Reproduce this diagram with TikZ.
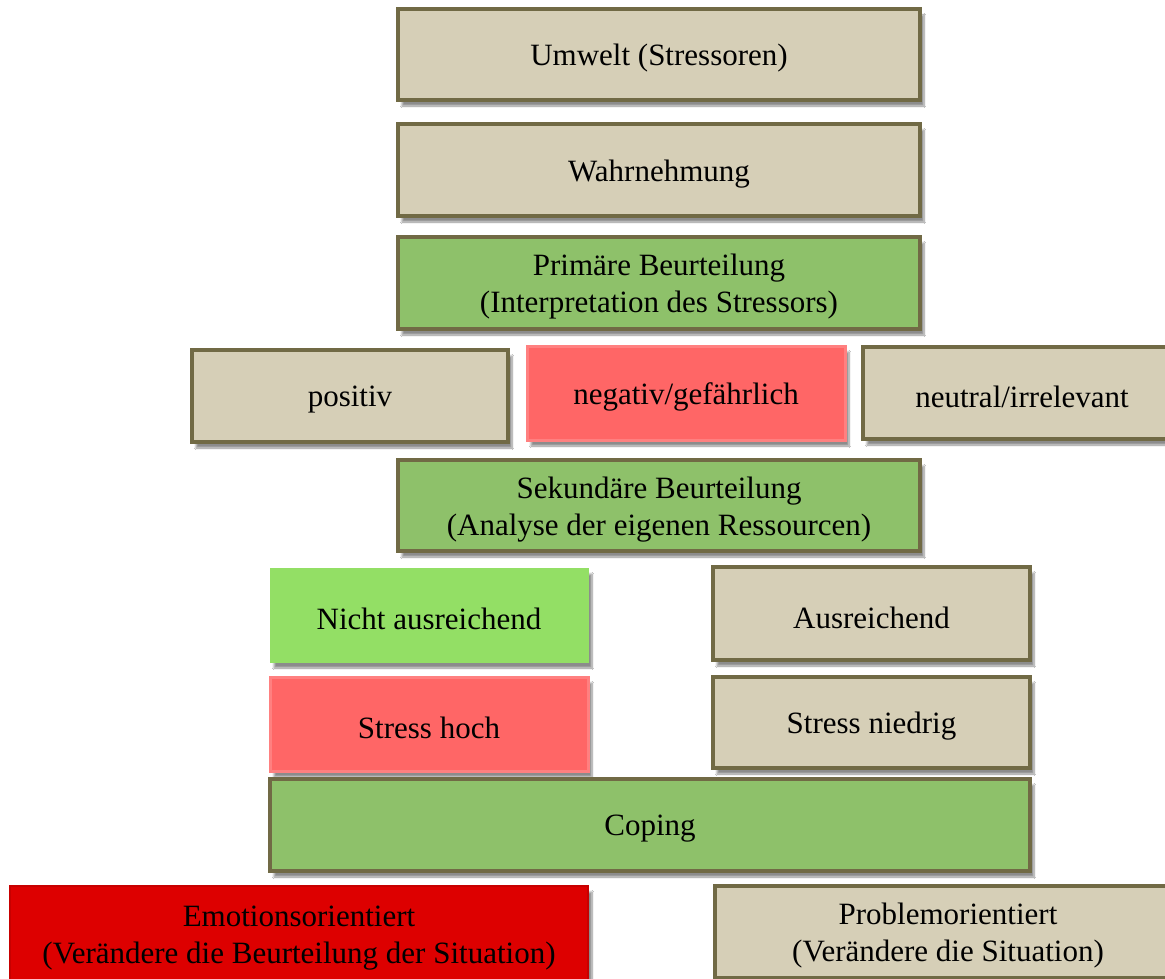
\documentclass[tikz,border=0pt]{standalone}
\usepackage{fontspec}
\setmainfont{Liberation Serif}
\usetikzlibrary{shadows,shadows.blur}
\definecolor{tanfill}{HTML}{D6CFB7}
\definecolor{olive}{HTML}{716A45}
\definecolor{midgreen}{HTML}{8EC16A}
\definecolor{lightgreen}{HTML}{93DF65}
\definecolor{softred}{HTML}{FF6666}
\definecolor{softredline}{HTML}{FF8080}
\definecolor{darkred}{HTML}{DD0000}
\tikzset{
  basebox/.style={rectangle, align=center, inner sep=0pt,
    font=\fontsize{31}{37}\selectfont, text=black,
    blur shadow={shadow xshift=4pt, shadow yshift=-6pt, shadow blur steps=8, shadow opacity=45}},
  tanbox/.style={basebox, fill=tanfill, draw=olive, line width=4pt},
  greenbox/.style={basebox, fill=midgreen, draw=olive, line width=4pt},
  lgreenbox/.style={basebox, fill=lightgreen, draw=lightgreen, line width=1pt},
  redbox/.style={basebox, fill=softred, draw=softredline, line width=3pt},
  dredbox/.style={basebox, fill=darkred, draw=darkred!90!black, line width=2pt},
  txt/.style={align=center, inner sep=0pt, font=\fontsize{31}{37}\selectfont, text=black},
}
\begin{document}
\begin{tikzpicture}[x=1pt,y=-1pt]
\useasboundingbox[fill=white] (0,0) rectangle (1165,979);
\node[tanbox, minimum width=522, minimum height=91] (umwelt) at (659,54.5) {};
\node[txt] (umweltT) at ([yshift=-4pt]umwelt.center) {Umwelt (Stressoren)};
\node[tanbox, minimum width=522, minimum height=92] (wahr) at (659,170) {};
\node[txt] (wahrT) at ([yshift=-4pt]wahr.center) {Wahrnehmung};
\node[greenbox, minimum width=522, minimum height=92] (prim) at (659,283) {};
\node[txt] (primT) at ([yshift=-4pt]prim.center) {Primäre Beurteilung\\(Interpretation des Stressors)};
\node[tanbox, minimum width=316, minimum height=92] (pos) at (350,396) {};
\node[txt] (posT) at ([yshift=-4pt]pos.center) {positiv};
\node[redbox, minimum width=318, minimum height=94] (neg) at (686,393) {};
\node[txt] (negT) at ([yshift=-4pt]neg.center) {negativ/gefährlich};
\node[tanbox, minimum width=318, minimum height=92] (neu) at (1022,393) {};
\node[txt] (neuT) at ([yshift=-4pt]neu.center) {neutral/irrelevant};
\node[greenbox, minimum width=522, minimum height=91] (sek) at (659,505.5) {};
\node[txt] (sekT) at ([yshift=-4pt]sek.center) {Sekundäre Beurteilung\\(Analyse der eigenen Ressourcen)};
\node[lgreenbox, minimum width=318, minimum height=94] (nicht) at (429,615) {};
\node[txt] (nichtT) at ([yshift=-4pt]nicht.center) {Nicht ausreichend};
\node[tanbox, minimum width=317, minimum height=93] (aus) at (871.5,613.5) {};
\node[txt] (ausT) at ([yshift=-4pt]aus.center) {Ausreichend};
\node[redbox, minimum width=318, minimum height=94] (hoch) at (429,724) {};
\node[txt] (hochT) at ([yshift=-4pt]hoch.center) {Stress hoch};
\node[tanbox, minimum width=317, minimum height=91] (nied) at (871.5,722.5) {};
\node[txt] (niedT) at ([yshift=-4pt]nied.center) {Stress niedrig};
\node[greenbox, minimum width=760, minimum height=92] (coping) at (650,825) {};
\node[txt] (copingT) at ([yshift=-4pt]coping.center) {Coping};
\node[dredbox, minimum width=578, minimum height=96] (emo) at (299,934) {};
\node[txt] (emoT) at ([yshift=-4pt]emo.center) {Emotionsorientiert\\(Verändere die Beurteilung der Situation)};
\node[tanbox, minimum width=466, minimum height=92] (prob) at (948,932) {};
\node[txt] (probT) at ([yshift=-4pt]prob.center) {Problemorientiert\\(Verändere die Situation)};
\end{tikzpicture}
\end{document}
